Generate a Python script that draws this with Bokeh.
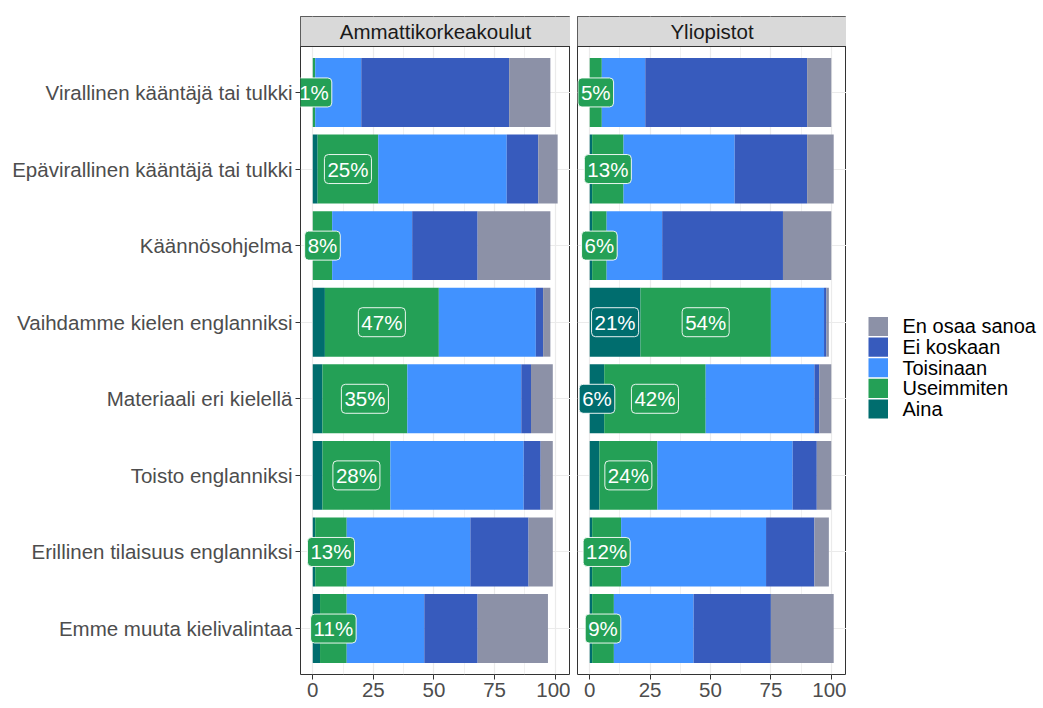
from bokeh.plotting import figure
from bokeh.models import ColumnDataSource, FixedTicker, Span
from bokeh.layouts import row
from bokeh.embed import file_html
from bokeh.resources import INLINE
from bokeh.core.properties import value

# ---------------- data ----------------
categories = [
    "Virallinen kääntäjä tai tulkki",
    "Epävirallinen kääntäjä tai tulkki",
    "Käännösohjelma",
    "Vaihdamme kielen englanniksi",
    "Materiaali eri kielellä",
    "Toisto englanniksi",
    "Erillinen tilaisuus englanniksi",
    "Emme muuta kielivalintaa",
]
series = ["Aina", "Useimmiten", "Toisinaan", "Ei koskaan", "En osaa sanoa"]
facets = ["Ammattikorkeakoulut", "Yliopistot"]

amk_aina = [0, 2, 0, 5, 4, 4, 1, 3]
amk_useimmiten = [1, 25, 8, 47, 35, 28, 13, 11]
amk_toisinaan = [19, 53, 33, 40, 47, 55, 51, 32]
amk_ei_koskaan = [61, 13, 27, 3, 4, 7, 24, 22]
amk_en_osaa = [17, 8, 30, 3, 9, 5, 10, 29]

yo_aina = [0, 1, 1, 21, 6, 4, 1, 1]
yo_useimmiten = [5, 13, 6, 54, 42, 24, 12, 9]
yo_toisinaan = [18, 46, 23, 22, 45, 56, 60, 33]
yo_ei_koskaan = [67, 30, 50, 1, 2, 10, 20, 32]
yo_en_osaa = [10, 11, 20, 1, 5, 6, 6, 26]

x_ticks = [0, 25, 50, 75, 100]

# ---------------- style ----------------
colors = {
    "Aina": "#006D6E",
    "Useimmiten": "#24A056",
    "Toisinaan": "#4192FF",
    "Ei koskaan": "#375BBD",
    "En osaa sanoa": "#8C91A7",
}
FONT = "Liberation Sans"
X0, X1 = -5.06, 106.3
TOP = 16
FH = 658
STRIP_PX = 30
Y0, YP = 0.4, len(categories) + 0.6
Y_TOP = YP + STRIP_PX * (YP - Y0) / (FH - STRIP_PX)

n = len(categories)
ypos = [n - i for i in range(n)]


def make_panel(title, vals, first, frame_w):
    p = figure(
        frame_width=frame_w, frame_height=FH,
        x_range=(X0, X1), y_range=(Y0, Y_TOP),
        output_backend="svg", toolbar_location=None,
        y_axis_location="left" if first else None,
        min_border_left=300 if first else 7, min_border_right=0,
        min_border_top=TOP, min_border_bottom=0,
        background_fill_color="white", border_fill_color="white",
    )
    p.outline_line_color = "#333333"
    p.outline_line_width = 1
    p.outline_line_alpha = 1

    # grid
    p.xgrid.ticker = FixedTicker(ticks=x_ticks, minor_ticks=[12.5, 37.5, 62.5, 87.5])
    p.xgrid.grid_line_color = "#EBEBEB"
    p.xgrid.grid_line_width = 1.2
    p.xgrid.minor_grid_line_color = "#EBEBEB"
    p.xgrid.minor_grid_line_width = 0.7
    p.ygrid.ticker = FixedTicker(ticks=ypos)
    p.ygrid.grid_line_color = "#EBEBEB"
    p.ygrid.grid_line_width = 1.2

    # x axis
    xa = p.xaxis[0]
    xa.ticker = FixedTicker(ticks=x_ticks, minor_ticks=[])
    xa.axis_line_color = None
    xa.major_tick_out = 5
    xa.major_tick_in = 0
    xa.major_tick_line_color = "#333333"
    xa.minor_tick_line_color = None
    xa.major_label_standoff = 3
    xa.major_label_text_font = FONT
    xa.major_label_text_font_size = "20.5px"
    xa.major_label_text_color = "#4D4D4D"

    if first:
        ya = p.yaxis[0]
        ya.ticker = FixedTicker(ticks=ypos, minor_ticks=[])
        ya.major_label_overrides = {y: c for y, c in zip(ypos, categories)}
        ya.axis_line_color = None
        ya.major_tick_out = 5
        ya.major_tick_in = 0
        ya.major_tick_line_color = "#333333"
        ya.minor_tick_line_color = None
        ya.major_label_standoff = 3
        ya.major_label_text_font = FONT
        ya.major_label_text_font_size = "20.5px"
        ya.major_label_text_color = "#4D4D4D"

    # stacked bars
    cum = [0] * n
    lab_x, lab_y, lab_t, lab_c = [], [], [], []
    for s, v in zip(series, vals):
        left = list(cum)
        right = [a + b for a, b in zip(cum, v)]
        src = ColumnDataSource(dict(y=ypos, left=left, right=right))
        p.hbar(y="y", left="left", right="right", height=0.9, source=src,
               fill_color=colors[s], line_color=None)
        for i in range(n):
            if s == "Useimmiten" or (s == "Aina" and v[i] > 5):
                lab_x.append(left[i] + v[i] / 2)
                lab_y.append(ypos[i])
                lab_t.append(f"{v[i]}%")
                lab_c.append(colors[s])
        cum = right

    lsrc = ColumnDataSource(dict(x=lab_x, y=lab_y, t=lab_t, bg=lab_c))
    p.text(x="x", y="y", text="t", source=lsrc, text_align="center",
           text_baseline="middle", text_color="white",
           text_font=value(FONT), text_font_size="20.5px",
           background_fill_color="bg", border_line_color="white",
           border_line_width=1, border_line_alpha=0.9,
           padding=3, border_radius=4)

    # strip
    p.quad(left=X0, right=X1, bottom=YP, top=Y_TOP, fill_color="#D9D9D9", line_color=None)
    p.add_layout(Span(location=YP, dimension="width", line_color="#333333", line_width=1))
    p.text(x=[(X0 + X1) / 2], y=[(YP + Y_TOP) / 2], text=[title], text_align="center",
           text_baseline="middle", text_color="#1A1A1A",
           text_font=value(FONT), text_font_size="20.5px")
    return p


p1 = make_panel(facets[0], [amk_aina, amk_useimmiten, amk_toisinaan, amk_ei_koskaan, amk_en_osaa], True, 270)
p2 = make_panel(facets[1], [yo_aina, yo_useimmiten, yo_toisinaan, yo_ei_koskaan, yo_en_osaa], False, 269)

# ---------------- legend (own small panel, pixel coordinates) ----------------
LX0 = 846          # left edge of legend panel on the page
LW, LH = 196, 704
p3 = figure(width=LW, height=LH, x_range=(LX0, LX0 + LW), y_range=(LH, 0),
            output_backend="svg", toolbar_location=None,
            x_axis_location=None, y_axis_location=None,
            min_border=0, outline_line_color=None)
p3.grid.visible = False

leg_labels = list(reversed(series))
KEY_TOP, KEY_PITCH, KEY_H = 319.0, 21.9, 20.3
key_top = [KEY_TOP + i * KEY_PITCH for i in range(len(leg_labels))]
ksrc = ColumnDataSource(dict(
    left=[868] * len(leg_labels), right=[887.5] * len(leg_labels),
    top=key_top, bottom=[t + KEY_H for t in key_top],
    color=[colors[s] for s in leg_labels],
    ty=[t + KEY_H / 2 for t in key_top], tx=[902] * len(leg_labels),
    label=leg_labels,
))
p3.quad(left="left", right="right", top="top", bottom="bottom", fill_color="color",
        line_color=None, source=ksrc)
p3.text(x="tx", y="ty", text="label", source=ksrc, text_align="left",
        text_baseline="middle", text_color="black",
        text_font=value(FONT), text_font_size="20px")

layout = row(p1, p2, p3)
open("out.html", "w").write(file_html(layout, INLINE))
